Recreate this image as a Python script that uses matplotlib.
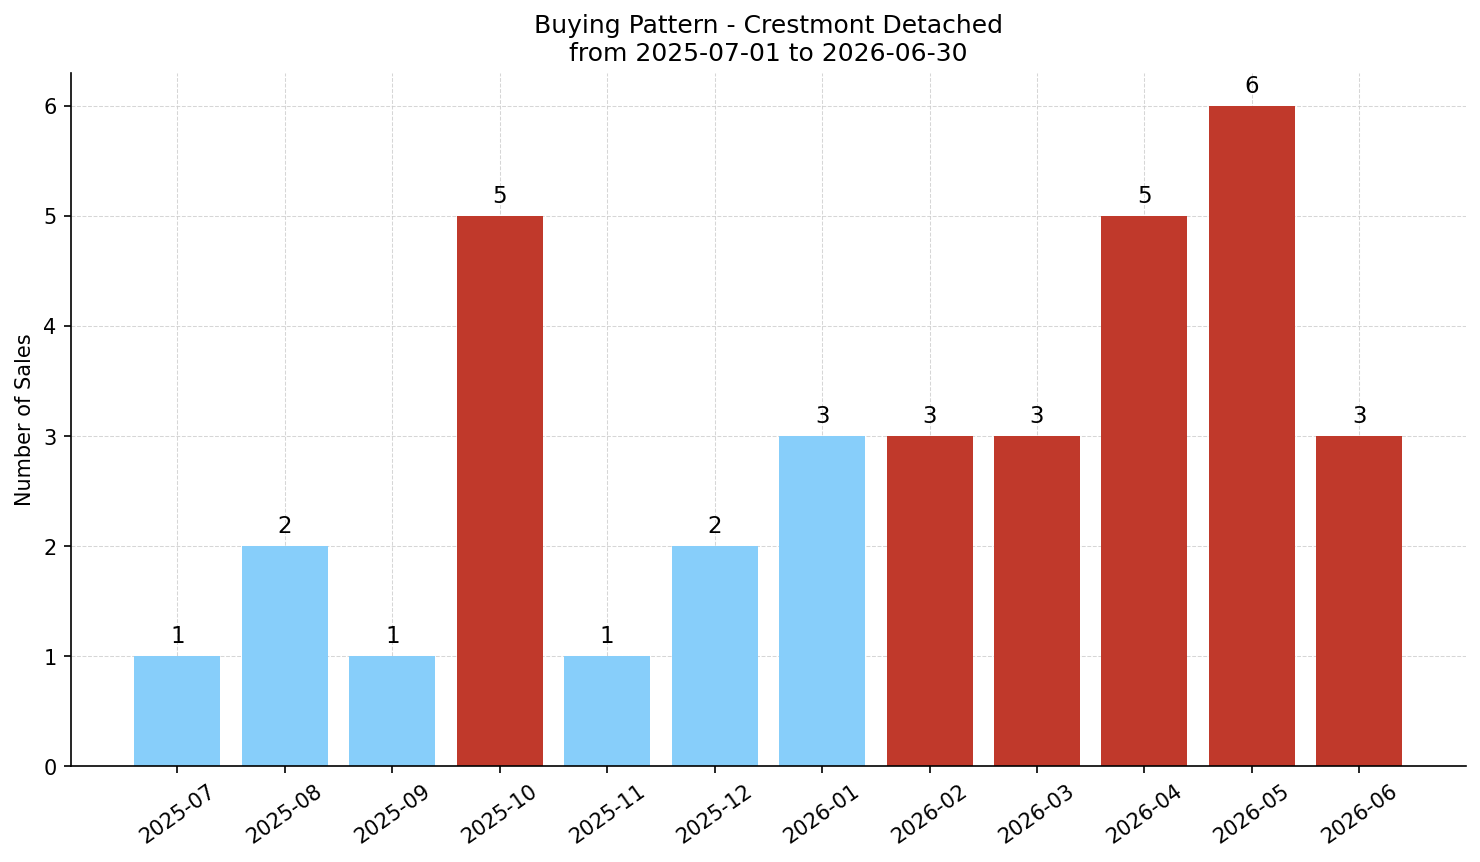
import matplotlib
matplotlib.use("Agg")
import matplotlib.pyplot as plt

months = ["2025-07", "2025-08", "2025-09", "2025-10", "2025-11", "2025-12",
          "2026-01", "2026-02", "2026-03", "2026-04", "2026-05", "2026-06"]
sales = [1, 2, 1, 5, 1, 2, 3, 3, 3, 5, 6, 3]
hot = [False, False, False, True, False, False, False, True, True, True, True, True]

BLUE, RED = "#87CEFA", "#C0392B"

fig, ax = plt.subplots(figsize=(9.87, 5.75), dpi=150)
x = range(len(months))
bars = ax.bar(x, sales, width=0.8, color=[RED if h else BLUE for h in hot], zorder=2)
for b, v in zip(bars, sales):
    ax.text(b.get_x() + b.get_width() / 2, v + 0.08, str(v),
            ha="center", va="bottom", fontsize=11)

ax.set_xticks(list(x))
ax.set_xticklabels(months, rotation=35)
ax.set_ylim(0, 6.3)
ax.set_ylabel("Number of Sales")
ax.set_title("Buying Pattern - Crestmont Detached\nfrom 2025-07-01 to 2026-06-30", fontsize=12)
ax.grid(True, ls="--", lw=0.5, color="#cccccc", alpha=0.8, zorder=0)
ax.set_axisbelow(True)
ax.spines["top"].set_visible(False)
ax.spines["right"].set_visible(False)
fig.subplots_adjust(left=0.048, right=0.990, top=0.915, bottom=0.111)
fig.savefig("out.png", dpi=150)
